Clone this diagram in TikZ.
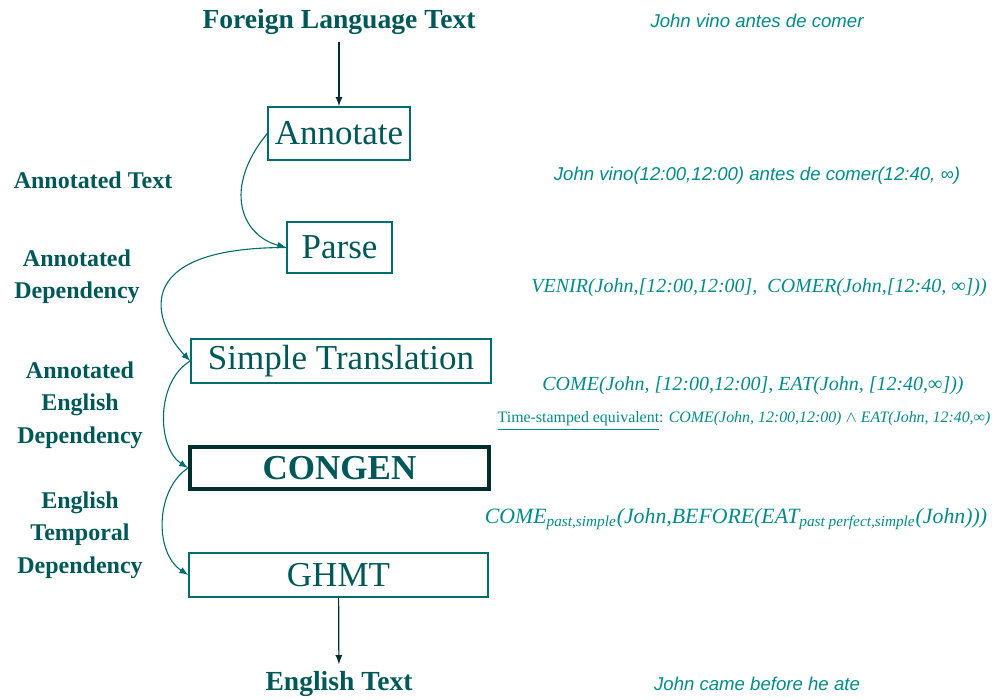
\documentclass[tikz,border=0pt]{standalone}
\usepackage{fontspec}
\setmainfont{Liberation Serif}
\newfontfamily\notesans{Liberation Sans}
\usetikzlibrary{arrows}

\definecolor{darkteal}{RGB}{0,88,88}
\definecolor{boxteal}{RGB}{0,110,110}
\definecolor{noteteal}{RGB}{0,140,140}
\definecolor{heavyteal}{RGB}{0,45,45}

\begin{document}
\begin{tikzpicture}[x=0.5pt, y=-0.5pt]
    \tikzstyle{stage box} = [draw=boxteal, line width=0.75pt, text=darkteal, inner sep=0pt, font=\fontsize{17.5}{20}\selectfont]
    \tikzstyle{side label} = [text=darkteal, align=center, font=\fontsize{12}{16.25}\selectfont\bfseries]
    \tikzstyle{end label} = [text=darkteal, font=\fontsize{13.8}{16}\selectfont\bfseries]
    \tikzstyle{serif note} = [text=noteteal, font=\fontsize{10}{12}\selectfont\itshape]
    \tikzstyle{sans note} = [text=noteteal, font=\fontsize{9.3}{11}\selectfont\notesans\itshape]
    \tikzstyle{flow edge} = [draw=heavyteal, line width=0.6pt, ->, >=latex]
    \tikzstyle{loop edge} = [draw=boxteal, line width=0.55pt, ->, >=latex]
\useasboundingbox (0,0) rectangle (995,700);
% pipeline
\node[end label] (foreign) at (339, 22) {Foreign Language Text};
\node[stage box, minimum width=71pt, minimum height=26.5pt] (annotate) at (339, 133.5) {Annotate};
\node[stage box, minimum width=52.5pt, minimum height=25.5pt] (parse) at (339.5, 247.5) {Parse};
\node[stage box, minimum width=150pt, minimum height=22pt] (simple) at (341, 361) {Simple Translation};
\node[stage box, draw=heavyteal, line width=2pt, minimum width=149.5pt, minimum height=21pt, font=\fontsize{17.5}{20}\selectfont\bfseries] (congen) at (339.5, 468) {CONGEN};
\node[stage box, minimum width=149.5pt, minimum height=22pt] (ghmt) at (338.5, 575) {GHMT};
\node[end label] (english) at (339, 684) {English Text};
\draw[flow edge] (foreign) -- (annotate);
\draw[flow edge] (ghmt) -- (english);
% intermediate forms
\node[side label] (annText) at (93, 180) {Annotated Text};
\node[side label] (annDep) at (77, 277) {Annotated\\Dependency};
\node[side label] (annEngDep) at (80, 405) {Annotated\\English\\Dependency};
\node[side label] (engTempDep) at (80, 535) {English\\Temporal\\Dependency};
\draw[loop edge] (annotate.west) .. controls +(-45,55) and +(-45,-12) .. (parse.west);
\draw[loop edge] (parse.west) .. controls +(-162,0) and +(-35,-36) .. (simple.west);
\draw[loop edge] (simple.west) .. controls +(-35,21) and +(-31,-20) .. (congen.west);
\draw[loop edge] (congen.west) .. controls +(-33,22) and +(-34,-22) .. (ghmt.west);
% example sentence
\node[sans note] (exSource) at (757, 21) {John vino antes de comer};
\node[sans note] (exAnnotated) at (757, 176) {John vino(12:00,12:00) antes de comer(12:40, ∞)};
\node[serif note] (exDep) at (759, 288) {VENIR(John,[12:00,12:00], \ COMER(John,[12:40, ∞]))};
\node[serif note] (exSimple) at (753, 386) {COME(John, [12:00,12:00], EAT(John, [12:40,∞]))};
\node[text=noteteal, font=\fontsize{7.95}{9}\selectfont] (exStamped) at (744, 421) {\underline{Time-stamped equivalent}: \textit{COME(John, 12:00,12:00) $\wedge$ EAT(John, 12:40,∞)}};
\node[serif note, font=\fontsize{10.9}{12}\selectfont\itshape] (exTemporal) at (736, 519) {COME\textsubscript{past,simple}(John,BEFORE(EAT\textsubscript{past perfect,simple}(John)))};
\node[sans note] (exTarget) at (757, 684) {John came before he ate};
\end{tikzpicture}
\end{document}
